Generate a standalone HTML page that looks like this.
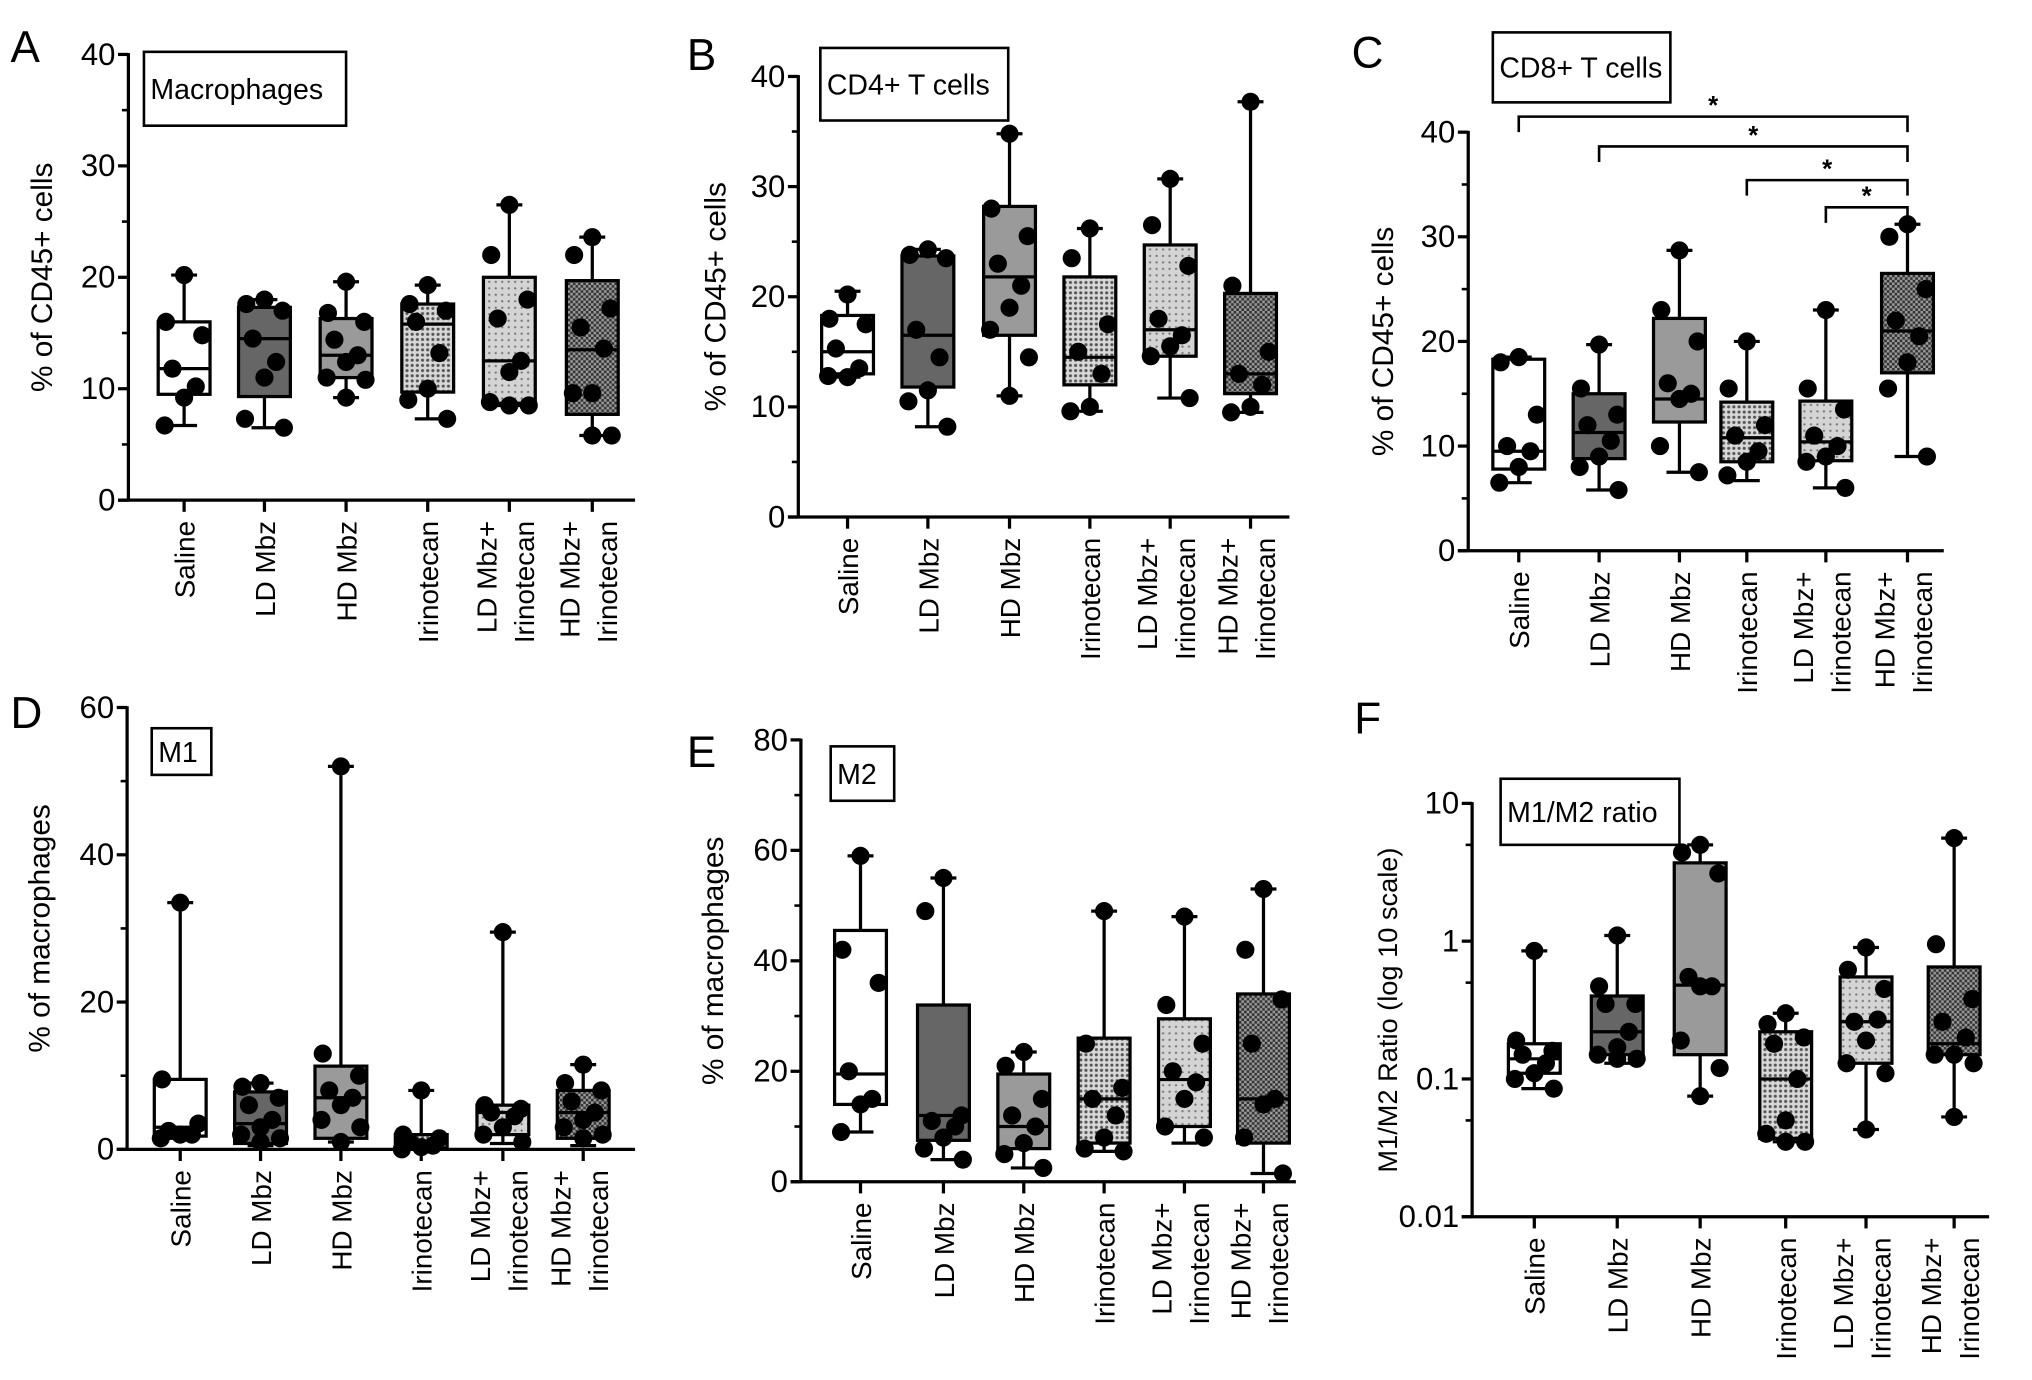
<!DOCTYPE html>
<html><head><meta charset="utf-8">
<style>
html,body{margin:0;padding:0;background:#fff;}
svg{display:block;font-family:"Liberation Sans",Arial,sans-serif;}
</style></head>
<body>
<svg id="fig" width="2032" height="1380" viewBox="0 0 1568 1065" xmlns="http://www.w3.org/2000/svg">
<defs>
<pattern id="pIri" width="4" height="4" patternUnits="userSpaceOnUse"><rect width="4" height="4" fill="#d8d8d8"/><circle cx="2" cy="2" r="1.2" fill="#555"/></pattern>
<pattern id="pLDI" width="5" height="5" patternUnits="userSpaceOnUse"><rect width="5" height="5" fill="#d4d4d4"/><circle cx="2.5" cy="2.5" r="0.9" fill="#777"/></pattern>
<pattern id="pHDI" width="4" height="4" patternUnits="userSpaceOnUse"><rect width="4" height="4" fill="#999"/><rect width="2" height="2" fill="#333"/><rect x="2" y="2" width="2" height="2" fill="#333"/></pattern>
</defs>
</svg>
<script>
const groups = ["Saline","LD Mbz","HD Mbz","Irinotecan","LD Mbz+|Irinotecan","HD Mbz+|Irinotecan"];
const fills = ["#fff","#666","#9a9a9a","url(#pIri)","url(#pLDI)","url(#pHDI)"];

// Panel A: Macrophages (% of CD45+)
const aMin=[6.7,6.5,9.2,7.3,8.5,5.8], aQ1=[9.5,9.3,11,9.7,8.7,7.7], aMed=[11.8,14.5,13,15.8,12.5,13.5], aQ3=[16,17.3,16.3,17.6,20,19.7], aMax=[20.2,18,19.6,19.3,26.5,23.6];
const aPts=[[20.2,16,14.8,11.8,10.2,9.2,6.7],[18,17.6,17,14.5,12.4,11,7.3,6.5],[19.6,16.8,16,14.4,13,12.4,11,10.8,9.2],[19.3,17.6,17,16,13.2,10,9,7.3],[26.5,22,18,16.3,12.5,11.5,8.8,8.5,8.5],[23.6,22,17.2,15.5,13.6,9.6,9.6,5.8,5.8]];
// Panel B: CD4+ T cells
const bMin=[12.7,8.2,11,9.6,10.8,9.5], bQ1=[13,11.8,16.5,12,14.6,11.2], bMed=[15,16.5,21.8,14.5,17,13], bQ3=[18.3,23.7,28.2,21.8,24.7,20.3], bMax=[20.5,24.3,34.8,26.2,30.7,37.7];
const bPts=[[20.2,18,17.5,15.3,13.5,12.7,12.8],[24.3,23.8,23.5,17,14.5,11.5,10.5,8.2],[34.8,28,25.5,23,21,19,17,14.5,11],[26.2,23.5,17.5,15,13,10,9.6],[30.7,26.5,22.8,18,16.5,15.5,14.6,10.8],[37.7,21,15,13,12,10,9.5]];
// Panel C: CD8+ T cells
const cMin=[6.5,5.8,7.5,6.7,6,9], cQ1=[7.8,8.8,12.3,8.5,8.6,17], cMed=[9.5,11.3,14.5,10.8,10.4,21], cQ3=[18.3,15,22.2,14.2,14.3,26.5], cMax=[18.5,19.7,28.7,20,23,31.2];
const cPts=[[18.5,18,13,10,9.5,8,6.5],[19.7,15.5,13,12,10.5,9,8,5.8],[28.7,23,20,16,15,14.5,10,7.5],[20,15.5,12,11,9.5,8.5,7.2],[23,15.5,13.5,11,10,9,8.5,6],[31.2,30,25,22,20.5,18,15.5,9]];
// Panel D: M1
const dMin=[1.5,0.5,1,0,0.8,0.5], dQ1=[1.8,0.8,1.5,0.2,2,1.5], dMed=[3,3.5,7,1,5,5], dQ3=[9.5,7.8,11.3,2,6,8], dMax=[33.5,9,52,8,29.5,11.5];
const dPts=[[33.5,9.5,3.5,2.5,2,2,1.5],[9,8.5,7,6,4,3,2,1.5,1],[52,13,10,8,7,6,4,3,1],[8,2,1.5,1,0.5,0.3,0],[29.5,6,5.5,5,4.5,3,2,1],[11.5,9,8,6.5,5,4,3,2,1.5]];
// Panel E: M2
const eMin=[9,4,2.5,5.5,7,1.5], eQ1=[14,7.5,6,7,10,7], eMed=[19.5,12,10,15,18.5,15], eQ3=[45.5,32,19.5,26,29.5,34], eMax=[59,55,23.5,49,48,53];
const ePts=[[59,42,36,20,15,14,9],[55,49,12,11,10,8,6,4],[23.5,21,15,12,10,7,5,2.5],[49,25,17,15,12,8,6,5.5],[48,32,25,20,18,15,10,8],[53,42,33,25,15,14,8,1.5]];
// Panel F: M1/M2 ratio (log)
const fMin=[0.085,0.13,0.075,0.035,0.043,0.053], fQ1=[0.11,0.15,0.15,0.037,0.13,0.15], fMed=[0.14,0.22,0.48,0.1,0.26,0.18], fQ3=[0.18,0.4,3.7,0.22,0.55,0.65], fMax=[0.85,1.1,5,0.3,0.9,5.6];
const fPts=[[0.85,0.19,0.16,0.15,0.13,0.11,0.1,0.085],[1.1,0.47,0.35,0.35,0.22,0.17,0.15,0.14,0.14],[5,4.4,3.1,0.55,0.47,0.47,0.19,0.12,0.075],[0.3,0.25,0.2,0.18,0.1,0.05,0.04,0.035,0.035],[0.9,0.62,0.45,0.26,0.27,0.19,0.13,0.11,0.043],[5.6,0.95,0.38,0.26,0.2,0.15,0.15,0.13,0.053]];

const linTicks40=[0,10,20,30,40], linTicks60=[0,20,40,60], linTicks80=[0,20,40,60,80], logTicks=[0.01,0.1,1,10];

const NS="http://www.w3.org/2000/svg";
const svg=document.getElementById('fig');
function mk(tag,attrs,parent){const e=document.createElementNS(NS,tag);for(const k in attrs)e.setAttribute(k,attrs[k]);(parent||svg).appendChild(e);return e;}

const panels=[
 {id:'a',letter:'A',lx:8,ly:48,ax:99,y0:386,yTop:42,vmin:0,vmax:40,ticks:linTicks40,minor:5,xs:[142,204,267,330,393,457],xEnd:490,title:'% of CD45+ cells',tx:40,label:'Macrophages',bx:111,by:40,bw:156,bh:57,mn:aMin,q1:aQ1,md:aMed,q3:aQ3,mx:aMax,pts:aPts},
 {id:'b',letter:'B',lx:530,ly:54,ax:616,y0:399,yTop:59,vmin:0,vmax:40,ticks:linTicks40,minor:5,xs:[654,716,779,841,903,965],xEnd:995,title:'% of CD45+ cells',tx:560,label:'CD4+ T cells',bx:633,by:37,bw:145,bh:56,mn:bMin,q1:bQ1,md:bMed,q3:bQ3,mx:bMax,pts:bPts},
 {id:'c',letter:'C',lx:1043,ly:52,ax:1133,y0:425,yTop:102,vmin:0,vmax:40,ticks:linTicks40,minor:5,xs:[1172,1234,1296,1348,1409,1472],xEnd:1500,title:'% of CD45+ cells',tx:1075,label:'CD8+ T cells',bx:1152,by:25,bw:137,bh:54,mn:cMin,q1:cQ1,md:cMed,q3:cQ3,mx:cMax,pts:cPts},
 {id:'d',letter:'D',lx:8,ly:562,ax:98,y0:887,yTop:546,vmin:0,vmax:60,ticks:linTicks60,minor:10,xs:[139,201,263,325,388,450],xEnd:490,title:'% of macrophages',tx:38,label:'M1',bx:117,by:562,bw:46,bh:36,mn:dMin,q1:dQ1,md:dMed,q3:dQ3,mx:dMax,pts:dPts},
 {id:'e',letter:'E',lx:530,ly:592,ax:618,y0:912,yTop:571,vmin:0,vmax:80,ticks:linTicks80,minor:10,xs:[664,728,790,852,914,975],xEnd:1000,title:'% of macrophages',tx:558,label:'M2',bx:641,by:576,bw:49,bh:42,mn:eMin,q1:eQ1,md:eMed,q3:eQ3,mx:eMax,pts:ePts},
 {id:'f',letter:'F',lx:1045,ly:566,ax:1136,y0:939,yTop:620,log:true,vmin:0.01,vmax:10,ticks:logTicks,xs:[1184,1248,1312,1378,1440,1508],xEnd:1535,title:'M1/M2 Ratio (log 10 scale)',tx:1078,tsize:21,label:'M1/M2 ratio',bx:1158,by:601,bw:138,bh:51,mn:fMin,q1:fQ1,md:fMed,q3:fQ3,mx:fMax,pts:fPts}
];
const jit=[0,-14,14,-9,9,0,-15,15,0];

panels.forEach(p=>{
  const g=mk('g',{});
  
  
  const yS=v=>{ if(p.log){const a=Math.log10(p.vmin),b=Math.log10(p.vmax);return p.y0-(Math.log10(v)-a)/(b-a)*(p.y0-p.yTop);} return p.y0-(v-p.vmin)/(p.vmax-p.vmin)*(p.y0-p.yTop);};
  const L=mk('text',{x:p.lx,y:p.ly,'font-size':34},g);L.textContent=p.letter;
  
  const ya=mk('line',{x1:p.ax,y1:p.yTop-1,x2:p.ax,y2:p.y0,stroke:'#000','stroke-width':2.5},g);
  
  p.ticks.forEach(t=>{const y=yS(t);mk('line',{x1:p.ax-8,y1:y,x2:p.ax,y2:y,stroke:'#000','stroke-width':2.5},g);
    const tt=mk('text',{x:p.ax-10,y:y+8,'font-size':24,'text-anchor':'end'},g);tt.textContent=String(t);
    });
  if(p.log){for(let d=-2;d<1;d++){const y=yS(5*Math.pow(10,d));mk('line',{x1:p.ax-5,y1:y,x2:p.ax,y2:y,stroke:'#000','stroke-width':2},g);}}
  else{for(let v=p.vmin+p.minor;v<p.vmax;v+=p.minor){if(p.ticks.includes(v))continue;const y=yS(v);mk('line',{x1:p.ax-5,y1:y,x2:p.ax,y2:y,stroke:'#000','stroke-width':2},g);}}
  const xa=mk('line',{x1:p.ax-8,y1:p.y0,x2:p.xEnd,y2:p.y0,stroke:'#000','stroke-width':2.5},g);
  
  const yt=mk('text',{x:0,y:0,'font-size':p.tsize||23,'text-anchor':'middle',transform:`translate(${p.tx},${(p.y0+p.yTop)/2}) rotate(-90)`},g);
  yt.textContent=p.title;
  const lb=mk('rect',{x:p.bx,y:p.by,width:p.bw,height:p.bh,fill:'#fff',stroke:'#000','stroke-width':2},g);
  
  const lt=mk('text',{x:p.bx+5,y:p.by+p.bh/2+8,'font-size':22},g);lt.textContent=p.label;
  
  groups.forEach((gname,i)=>{
    const x=p.xs[i];
    mk('line',{x1:x,y1:p.y0,x2:x,y2:p.y0+9,stroke:'#000','stroke-width':2.5},g);
    const parts=gname.split('|');
    parts.forEach((s,k)=>{const off=(parts.length===1)?8:(k===0?-10:19);
      const t=mk('text',{x:0,y:0,'font-size':21.5,'text-anchor':'end',transform:`translate(${x+off},${p.y0+16}) rotate(-90)`},g);
      t.textContent=s;});
    const bg=mk('g',{},g);
    
    const w=40;
    mk('line',{x1:x,y1:yS(p.mx[i]),x2:x,y2:yS(p.mn[i]),stroke:'#000','stroke-width':2.5},bg);
    mk('line',{x1:x-10,y1:yS(p.mx[i]),x2:x+10,y2:yS(p.mx[i]),stroke:'#000','stroke-width':2.5},bg);
    mk('line',{x1:x-10,y1:yS(p.mn[i]),x2:x+10,y2:yS(p.mn[i]),stroke:'#000','stroke-width':2.5},bg);
    mk('rect',{x:x-w/2,y:yS(p.q3[i]),width:w,height:yS(p.q1[i])-yS(p.q3[i]),fill:fills[i],stroke:'#000','stroke-width':2.5},bg);
    mk('line',{x1:x-w/2,y1:yS(p.md[i]),x2:x+w/2,y2:yS(p.md[i]),stroke:'#000','stroke-width':2.5},bg);
    p.pts[i].forEach((v,k)=>{const c=mk('circle',{cx:x+jit[k%jit.length],cy:yS(v),r:7,fill:'#000'},bg);
      });
  });
  if(p.id==='c'){
    const br=[[0,90],[1,113],[3,139],[4,160]];
    br.forEach(([s,y])=>{const x1=p.xs[s],x2=p.xs[5];
      const pl=mk('polyline',{points:`${x1},${y+12} ${x1},${y} ${x2},${y} ${x2},${y+12}`,fill:'none',stroke:'#000','stroke-width':2},g);
      
      const st=mk('text',{x:(x1+x2)/2,y:y-2,'font-size':20,'font-weight':'bold','text-anchor':'middle'},g);st.textContent='*';
      });
  }
});
</script>
</body></html>
